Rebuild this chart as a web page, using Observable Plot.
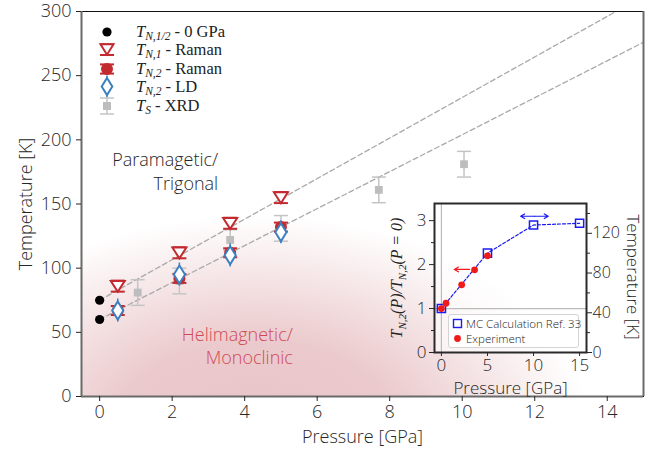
<!DOCTYPE html>
<html><head><meta charset="utf-8">
<script src="https://cdn.jsdelivr.net/npm/d3@7"></script>
<script src="https://cdn.jsdelivr.net/npm/@observablehq/plot@0.6"></script>
<style>
body{margin:0;background:#fff;}
#wrap{position:relative;width:655px;height:450px;overflow:hidden;font-family:"Open Sans",sans-serif;font-weight:300;}
#main{position:absolute;left:0;top:0;}
#inset{position:absolute;left:388px;top:190px;}
#ilegend{position:absolute;left:448px;top:314px;width:129px;height:31px;background:#fff;border:1px solid #d4d4d4;border-radius:3px;font-size:11.5px;line-height:15px;color:#222;padding-top:1px;}
#ilegend div{white-space:nowrap;padding-left:3px;}
#ilegend svg{vertical-align:-1px;margin-right:3px;}
</style></head><body>
<div id="wrap"><div id="main"></div><div id="inset"></div>
<div id="ilegend">
<div><svg width="11" height="11"><rect x="1.5" y="1.5" width="8" height="8" fill="none" stroke="#1c1cf0" stroke-width="1.4"/></svg>MC Calculation Ref. 33</div>
<div><svg width="11" height="11"><circle cx="5.5" cy="5.5" r="3.4" fill="#f01a1a"/></svg>Experiment</div>
</div></div>
<script>
// ---------- main chart data ----------
const xDomain = [-0.5, 15];
const yDomain = [0, 300];
const xTicks = [0, 2, 4, 6, 8, 10, 12, 14];
const yTicks = [0, 50, 100, 150, 200, 250, 300];

const zeroP = [0, 0];           const zeroT = [75, 60];
const raman1P = [0.5, 2.2, 3.6, 5.0]; const raman1T = [86, 112, 135, 155]; const raman1Err = [4.3, 4.3, 4.3, 4.3];
const raman2P = [0.5, 2.2, 3.6, 5.0]; const raman2T = [67, 92, 112, 132]; const raman2Err = [3.5, 3.5, 3.5, 3.5];
const ldP = [0.5, 2.2, 3.6, 5.0];     const ldT = [67, 95, 110, 128];     const ldErr = [9, 9, 9, 9];
const xrdP = [1.05, 2.2, 3.6, 5.0, 7.7, 10.05]; const xrdT = [81, 90, 122, 131, 161, 181]; const xrdErr = [10, 10, 8, 10, 10, 10];
const fitUpperP = [0, 15]; const fitUpperT = [75, 312];
const fitLowerP = [0, 15]; const fitLowerT = [60, 276];

const phaseText = ["Paramagetic/\nTrigonal", "Helimagnetic/\nMonoclinic"];
const phaseP = [3.27, 5.33];
const phaseT = [176, 40];
const phaseColor = ["#262626", "#d04a55"];

// ---------- inset data ----------
const insetXDomain = [-0.75, 15.75];
const insetYDomain = [0, 3.39];
const insetXTicks = [0, 5, 10, 15];
const insetYTicks = [0, 1, 2, 3];
const insetYMinor = [0.5, 1.5, 2.5];
const tempFactor = 44.25;
const tempTicks = [0, 40, 80, 120];
const tempMinor = [20, 60, 100, 140];
const mcP = [0, 5, 10, 15];           const mcRatio = [1.0, 2.26, 2.9, 2.94];
const expP = [0, 0.5, 2.2, 3.6, 5.0]; const expRatio = [1.0, 1.12, 1.54, 1.88, 2.2];
const arrowX1 = [3.05, 10.1, 10.1]; const arrowX2 = [1.4, 8.6, 11.6];
const arrowY = [1.89, 3.1, 3.1];    const arrowColor = ["#f01a1a", "#1c1cf0", "#1c1cf0"];
const refY = [1]; const refX = [0];

// ---------- helpers ----------
const rows = (P, T, E) => P.map((p, i) => ({p, t: T[i], e: E ? E[i] : 0}));
const sym = f => ({draw(ctx, size) { f(ctx, Math.sqrt(size / Math.PI)); }});
const capSym = sym((c, r) => { c.moveTo(-r, 0); c.lineTo(r, 0); });
const triDown = sym((c, r) => { c.moveTo(-r, -0.75 * r); c.lineTo(r, -0.75 * r); c.lineTo(0, 0.8 * r); c.closePath(); });
const tallDiamond = sym((c, r) => { c.moveTo(0, -r); c.lineTo(0.62 * r, 0); c.lineTo(0, r); c.lineTo(-0.62 * r, 0); c.closePath(); });

const zero = rows(zeroP, zeroT);
const r1 = rows(raman1P, raman1T, raman1Err);
const r2 = rows(raman2P, raman2T, raman2Err);
const ld = rows(ldP, ldT, ldErr);
const xrd = rows(xrdP, xrdT, xrdErr);
const fitU = rows(fitUpperP, fitUpperT);
const fitL = rows(fitLowerP, fitLowerT);
const phase = phaseText.map((t, i) => ({t, p: phaseP[i], y: phaseT[i], c: phaseColor[i]}));

const RED = "#c22a30", BLUE = "#3d80c0", GRAY = "#bdbdbd";

function errMarks(data, color, w, capR) {
  return [
    Plot.ruleX(data, {x: "p", y1: d => d.t - d.e, y2: d => d.t + d.e, stroke: color, strokeWidth: w}),
    ...(capR ? [
      Plot.dot(data, {x: "p", y: d => d.t - d.e, symbol: capSym, r: capR, stroke: color, strokeWidth: w, fill: "none"}),
      Plot.dot(data, {x: "p", y: d => d.t + d.e, symbol: capSym, r: capR, stroke: color, strokeWidth: w, fill: "none"})
    ] : [])
  ];
}

const main = Plot.plot({
  width: 655, height: 450,
  marginLeft: 81, marginRight: 12, marginTop: 11, marginBottom: 54,
  style: {fontFamily: "'Open Sans', sans-serif", fontWeight: 300, fontSize: "18px", color: "#262626", background: "transparent", overflow: "visible"},
  x: {domain: xDomain},
  y: {domain: yDomain},
  marks: [
    Plot.frame({fill: "url(#bgGrad)", stroke: "none"}),
    Plot.line(fitU, {x: "p", y: "t", stroke: "#aaaaaa", strokeWidth: 1.3, strokeDasharray: "5,3", clip: true}),
    Plot.line(fitL, {x: "p", y: "t", stroke: "#aaaaaa", strokeWidth: 1.3, strokeDasharray: "5,3", clip: true}),
    ...errMarks(xrd, "#c4c4c4", 1.5, 7),
    Plot.dot(xrd, {x: "p", y: "t", symbol: "square", r: 4.4, fill: GRAY, stroke: "none"}),
    ...errMarks(r2, RED, 2, 7),
    Plot.dot(r2, {x: "p", y: "t", r: 6, fill: RED, stroke: "none"}),
    ...errMarks(ld, BLUE, 1.5, 0),
    Plot.dot(ld, {x: "p", y: "t", symbol: tallDiamond, r: 9, fill: "white", stroke: BLUE, strokeWidth: 2}),
    ...errMarks(r1, RED, 2, 7),
    Plot.dot(r1, {x: "p", y: "t", symbol: triDown, r: 7, fill: "white", stroke: RED, strokeWidth: 2}),
    Plot.dot(zero, {x: "p", y: "t", r: 4.6, fill: "black", stroke: "none"}),
    Plot.text(phase, {x: "p", y: "y", text: "t", fill: "c", textAnchor: "end", lineAnchor: "middle", lineHeight: 1.3, fontSize: 18}),
    Plot.frame({stroke: "#111", strokeWidth: 1}),
    Plot.ruleX(xDomain, {stroke: "#6a6a6a", strokeWidth: 2}),
    Plot.ruleY([yDomain[0]], {stroke: "#6a6a6a", strokeWidth: 2}),
    Plot.axisX({ticks: xTicks, tickSize: 5, tickPadding: 4, label: "Pressure [GPa]", labelAnchor: "center", labelOffset: 46, labelArrow: "none"}),
    Plot.axisY({ticks: yTicks, tickSize: 5, tickPadding: 5, label: "Temperature [K]", labelAnchor: "center", labelOffset: 62, labelArrow: "none"})
  ]
});
document.getElementById("main").appendChild(main);

// gradient background
const ms = d3.select(main);
ms.insert("defs", ":first-child").html(
  `<radialGradient id="bgGrad" gradientUnits="userSpaceOnUse" cx="0" cy="0" r="1" gradientTransform="translate(255,430) scale(335,215)">
     <stop offset="0" stop-color="#e8c3c6"/>
     <stop offset="0.42" stop-color="#ebcacd"/>
     <stop offset="0.74" stop-color="#f6e7e8"/>
     <stop offset="1" stop-color="#ffffff"/>
   </radialGradient>`);

// legend
const legendRows = [
  {y: 32, sub: "N,1/2", rest: " - 0 GPa", kind: "dot"},
  {y: 49.5, sub: "N,1", rest: " - Raman", kind: "tri"},
  {y: 69, sub: "N,2", rest: " - Raman", kind: "circ"},
  {y: 86.5, sub: "N,2", rest: " - LD", kind: "dia"},
  {y: 106, sub: "S", rest: " - XRD", kind: "sq"}
];
const lg = ms.append("g");
for (const r of legendRows) {
  const g = lg.append("g").attr("transform", `translate(107,${r.y})`);
  const cap = (y, c, w) => g.append("line").attr("x1", -7).attr("x2", 7).attr("y1", y).attr("y2", y).attr("stroke", c).attr("stroke-width", w);
  if (r.kind === "dot") g.append("circle").attr("r", 4.6).attr("fill", "black");
  if (r.kind === "tri") {
    g.append("line").attr("y1", -5).attr("y2", 5.5).attr("stroke", RED).attr("stroke-width", 2);
    cap(-5.2, RED, 2); cap(5.5, RED, 2);
    g.append("path").attr("d", "M-6.5,-5.2L6.5,-5.2L0,5.2Z").attr("fill", "white").attr("stroke", RED).attr("stroke-width", 2);
  }
  if (r.kind === "circ") {
    g.append("line").attr("y1", -5).attr("y2", 5).attr("stroke", RED).attr("stroke-width", 2);
    cap(-4.6, RED, 2); cap(4.6, RED, 2);
    g.append("circle").attr("r", 6).attr("fill", RED);
  }
  if (r.kind === "dia") {
    g.append("line").attr("y1", -11).attr("y2", 11).attr("stroke", BLUE).attr("stroke-width", 1.5);
    g.append("path").attr("d", "M0,-8.5L5.3,0L0,8.5L-5.3,0Z").attr("fill", "white").attr("stroke", BLUE).attr("stroke-width", 2);
  }
  if (r.kind === "sq") {
    g.append("line").attr("y1", -8).attr("y2", 8).attr("stroke", "#c4c4c4").attr("stroke-width", 1.5);
    cap(-8, "#c4c4c4", 1.5); cap(8, "#c4c4c4", 1.5);
    g.append("rect").attr("x", -4).attr("y", -4).attr("width", 8).attr("height", 8).attr("fill", GRAY);
  }
  const t = lg.append("text").attr("x", 136).attr("y", r.y + 5).attr("text-anchor", "start")
    .attr("font-family", "'Liberation Serif', serif").attr("font-weight", 400).attr("font-size", 16.5).attr("fill", "#222");
  t.append("tspan").attr("font-style", "italic").text("T");
  t.append("tspan").attr("font-style", "italic").attr("font-size", 11.5).attr("dy", 3).text(r.sub);
  t.append("tspan").attr("dy", -3).text(r.rest);
}

// ---------- inset ----------
const mc = mcP.map((p, i) => ({p, v: mcRatio[i]}));
const ex = expP.map((p, i) => ({p, v: expRatio[i]}));
const arrows = arrowX1.map((x1, i) => ({x1, x2: arrowX2[i], y: arrowY[i], c: arrowColor[i]}));

const inset = Plot.plot({
  width: 262, height: 212,
  marginLeft: 46, marginRight: 64, marginTop: 13, marginBottom: 50,
  style: {fontFamily: "'Open Sans', sans-serif", fontWeight: 300, fontSize: "17px", color: "#262626", background: "transparent", overflow: "visible"},
  x: {domain: insetXDomain},
  y: {domain: insetYDomain},
  marks: [
    Plot.frame({fill: "white", fillOpacity: 0.6, stroke: "none"}),
    Plot.ruleY(refY, {stroke: "#bbbbbb", strokeWidth: 1.2}),
    Plot.ruleX(refX, {stroke: "#bbbbbb", strokeWidth: 1.2}),
    Plot.line(mc, {x: "p", y: "v", stroke: "#1c1cf0", strokeWidth: 1.2, strokeDasharray: "3,2"}),
    Plot.dot(mc, {x: "p", y: "v", symbol: "square", r: 4.6, fill: "none", stroke: "#1c1cf0", strokeWidth: 1.5}),
    Plot.dot(ex, {x: "p", y: "v", r: 3.4, fill: "#f01a1a", stroke: "none"}),
    Plot.arrow(arrows, {x1: "x1", x2: "x2", y1: "y", y2: "y", stroke: "c", strokeWidth: 1.2, headLength: 6}),
    Plot.frame({stroke: "#2a2a2a", strokeWidth: 2}),
    Plot.axisX({ticks: insetXTicks, tickSize: 4, tickPadding: 2, tickFormat: d => String(d), label: "Pressure [GPa]", labelAnchor: "center", labelOffset: 41, labelArrow: "none"}),
    Plot.axisY({anchor: "left", ticks: insetYTicks, tickSize: 5, tickPadding: 3, tickFormat: d => String(d), label: null}),
    Plot.axisY({anchor: "left", ticks: insetYMinor, tickSize: 3, tickFormat: () => "", label: null}),
    Plot.axisY({anchor: "right", ticks: tempTicks.map(k => k / tempFactor), tickFormat: d => String(Math.round(d * tempFactor)), tickSize: 5, tickPadding: 1, fontSize: 16, label: null}),
    Plot.axisY({anchor: "right", ticks: tempMinor.map(k => k / tempFactor), tickFormat: () => "", tickSize: 3, label: null})
  ]
});
document.getElementById("inset").appendChild(inset);
const is = d3.select(inset);
const yl = is.append("text").attr("transform", "translate(14,88) rotate(-90)").attr("text-anchor", "middle")
  .attr("font-family", "'Liberation Serif', serif").attr("font-weight", 400).attr("font-size", 16).attr("font-style", "italic").attr("fill", "#222");
yl.append("tspan").text("T");
yl.append("tspan").attr("font-size", 11).attr("dy", 4).text("N,2");
yl.append("tspan").attr("dy", -4).text("(P)/T");
yl.append("tspan").attr("font-size", 11).attr("dy", 4).text("N,2");
yl.append("tspan").attr("dy", -4).text("(P = 0)");
is.append("text").attr("transform", "translate(244,87) rotate(90)").attr("text-anchor", "middle").attr("dominant-baseline", "middle")
  .attr("font-size", 17).attr("fill", "#262626").text("Temperature [K]");
</script></body></html>
